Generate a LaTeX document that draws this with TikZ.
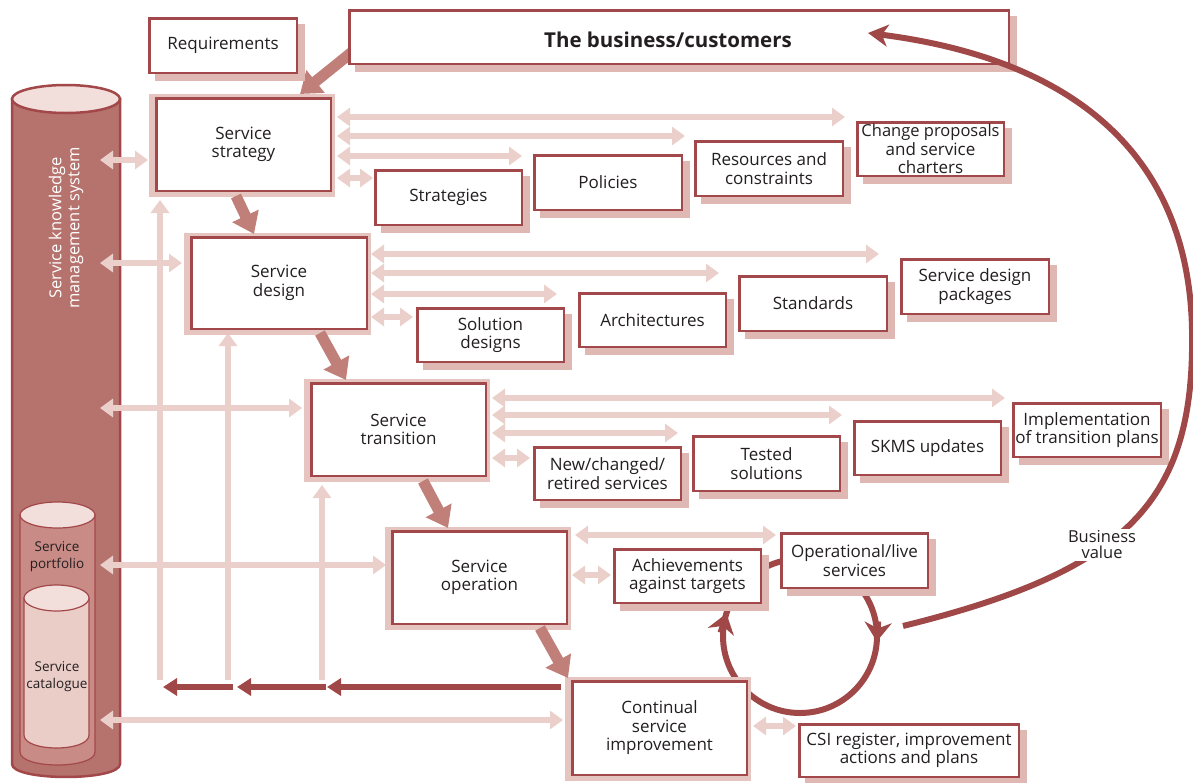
\documentclass[tikz,border=0pt]{standalone}
\usepackage{fontspec}
\setmainfont{Open Sans}
\usetikzlibrary{arrows.meta,calc}
\definecolor{dred}{HTML}{A04848}
\definecolor{bord}{HTML}{A3484A}
\definecolor{lpink}{HTML}{EACFCA}
\definecolor{shad}{HTML}{E0B8B3}
\definecolor{halo}{HTML}{E6C4BF}
\definecolor{bigarr}{HTML}{C07F79}
\definecolor{cylA}{HTML}{B6736E}
\definecolor{cylB}{HTML}{C98B86}
\definecolor{cylC}{HTML}{EBCDC8}
\definecolor{cyltop}{HTML}{F2DEDA}
\definecolor{txt}{HTML}{231F20}
\pgfdeclarelayer{back}
\pgfdeclarelayer{bg}
\pgfdeclarelayer{front}
\pgfsetlayers{back,bg,main,front}
\tikzset{
 every node/.style={font=\fontsize{17}{18.5}\selectfont, text=txt},
 lbox/.style={draw=bord, line width=2.5pt, fill=white, align=center, inner sep=0pt},
 obox/.style={draw=bord, line width=2.5pt, fill=white, align=center, inner sep=0pt},
 la/.style={draw=lpink, line width=6.5pt, {Triangle[length=13pt,width=18pt]}-{Triangle[length=13pt,width=18pt]}},
 lo/.style={draw=lpink, line width=6.5pt, -{Triangle[length=13pt,width=18pt]}},
 da/.style={draw=dred, line width=6pt, -{Triangle[length=14pt,width=17pt]}},
 ba/.style={draw=bigarr, line width=11pt, -{Triangle[length=20pt,width=28pt]}},
 ca/.style={draw=dred, line width=6pt, -{Stealth[length=19pt,width=27pt,inset=6pt]}},
 smalltxt/.style={font=\fontsize{13.5}{17}\selectfont, align=center},
}
\newcommand\LCbox[6]{%
  \fill[halo] ({#2-6},{#3-3}) rectangle ({#4+3},{#5+5});
  \node[lbox, minimum width={#4-#2-2.5}, minimum height={#5-#3-2.5}] (#1) at ({(#2+#4)/2},{(#3+#5)/2}) {#6};}
\newcommand\OBox[6]{%
  \fill[shad] ({#2+7},{#3+7}) rectangle ({#4+7},{#5+7});
  \node[obox, minimum width={#4-#2-2.5}, minimum height={#5-#3-2.5}] (#1) at ({(#2+#4)/2},{(#3+#5)/2}) {#6};}
\begin{document}
\begin{tikzpicture}[x=1pt,y=-1pt]
\useasboundingbox (0,0) rectangle (1193,782);

% ---------- boxes (main layer) ----------
\LCbox{strat}{155}{97}{332}{192}{Service\\strategy}
\LCbox{design}{190}{236}{368}{330}{Service\\design}
\LCbox{trans}{310}{382}{487}{477}{Service\\transition}
\LCbox{oper}{391}{530}{568}{625}{Service\\operation}
\LCbox{csi}{571}{680}{748}{776}{Continual\\service\\improvement}

\OBox{req}{148}{17}{298}{74}{Requirements}
\OBox{bus}{348}{9}{1010}{65}{}
\node[font=\bfseries\fontsize{20.5}{24}\selectfont] (bustxt) at (668,40) {The business/customers};
\OBox{strats}{374}{169}{523}{226}{Strategies}
\OBox{pol}{533}{154}{683}{211}{Policies}
\OBox{res}{694}{140}{844}{197}{Resources and\\constraints}
\OBox{chg}{856}{121}{1005}{177}{\fontsize{16.5}{17}\selectfont Change proposals\\and service\\charters}
\OBox{sol}{416}{307}{565}{363}{Solution\\designs}
\OBox{arch}{578}{292}{727}{348}{Architectures}
\OBox{std}{738}{275}{888}{332}{Standards}
\OBox{sdp}{900}{258}{1050}{315}{Service design\\packages}
\OBox{new}{533}{446}{682}{501}{New/changed/\\retired services}
\OBox{tst}{692}{435}{841}{492}{Tested\\solutions}
\OBox{skms}{853}{420}{1002}{476}{SKMS updates}
\OBox{impl}{1012}{402}{1162}{458}{Implementation\\of transition plans}
\OBox{ach}{613}{548}{762}{604}{Achievements\\against targets}
\OBox{opl}{780}{532}{929}{589}{Operational/live\\services}
\OBox{reg}{798}{723}{1020}{778}{CSI register, improvement\\actions and plans}

% ---------- SKMS cylinder (back layer) ----------
\begin{pgfonlayer}{back}
\filldraw[fill=cylA, draw=bord, line width=2.5pt] (12,99) -- (12,764) .. controls (12,781.3) and (120,781.3) .. (120,764) -- (120,99) -- cycle;
\filldraw[fill=cyltop, draw=bord, line width=2.5pt] (66,99) ellipse [x radius=54, y radius=14];
\filldraw[fill=cylB, draw=bord, line width=1.2pt] (20,515) -- (20,752) .. controls (20,769.3) and (95,769.3) .. (95,752) -- (95,515) -- cycle;
\filldraw[fill=cyltop, draw=bord, line width=1.2pt] (57.5,515) ellipse [x radius=37.5, y radius=13];
\filldraw[fill=cylC, draw=bord, line width=1.2pt] (24,598) -- (24,735) .. controls (24,752.3) and (89,752.3) .. (89,735) -- (89,598) -- cycle;
\filldraw[fill=cyltop, draw=bord, line width=1.2pt] (56.5,598) ellipse [x radius=32.5, y radius=13];
\node[rotate=90, text=white, align=center, font=\fontsize{16.5}{18}\selectfont] (skmslbl) at (66,228) {Service knowledge\\management system};
\node[smalltxt] (portlbl) at (57,557) {Service\\portfolio};
\node[smalltxt] (catlbl) at (57,677) {Service\\catalogue};
\coordinate (sk) at (100,0);
\end{pgfonlayer}

% ---------- light connectors (bg layer) ----------
\begin{pgfonlayer}{bg}
\coordinate (v1) at (160,680);
\coordinate (v2) at (228,680);
\coordinate (v3) at (322,680);
\draw[lo] (v1) -- ($(strat.south -| v1)+(0,8)$);
\draw[lo] (v2) -- ($(design.south -| v2)+(0,3)$);
\draw[lo] (v3) -- ($(trans.south -| v3)+(0,8)$);
% SKMS links
\draw[la] (sk |- 0,160) -- ($(strat.west |- 0,160)+(-7,0)$);
\draw[la] (sk |- 0,263) -- ($(design.west |- 0,263)+(-8,0)$);
\draw[la] (sk |- 0,408) -- ($(trans.west |- 0,408)+(-8,0)$);
\draw[la] (sk |- 0,565) -- ($(oper.west |- 0,565)+(-5,0)$);
\draw[la] (sk |- 0,720) -- ($(csi.west |- 0,720)+(-8,0)$);
% strategy outputs
\draw[la] ($(strat.east |- 0,117)+(5,0)$) -- ($(chg.west |- 0,117)+(-11,0)$);
\draw[la] ($(strat.east |- 0,136)+(5,0)$) -- ($(res.west |- 0,136)+(-9,0)$);
\draw[la] ($(strat.east |- 0,156)+(5,0)$) -- ($(pol.west |- 0,156)+(-11,0)$);
\draw[la] ($(strat.east |- 0,178)+(5,0)$) -- ($(strats.west |- 0,178)+(-1,0)$);
% design outputs
\draw[la] ($(design.east |- 0,254)+(3,0)$) -- ($(sdp.west |- 0,254)+(-21,0)$);
\draw[la] ($(design.east |- 0,273)+(3,0)$) -- ($(std.west |- 0,273)+(-19,0)$);
\draw[la] ($(design.east |- 0,294)+(3,0)$) -- ($(arch.west |- 0,294)+(-21,0)$);
\draw[la] ($(design.east |- 0,317)+(3,0)$) -- ($(sol.west |- 0,317)+(-3,0)$);
% transition outputs
\draw[la] ($(trans.east |- 0,398)+(5,0)$) -- ($(impl.west |- 0,398)+(-7,0)$);
\draw[la] ($(trans.east |- 0,415)+(5,0)$) -- ($(skms.west |- 0,415)+(-11,0)$);
\draw[la] ($(trans.east |- 0,433)+(5,0)$) -- ($(tst.west |- 0,433)+(-14,0)$);
\draw[la] ($(trans.east |- 0,458)+(5,0)$) -- ($(new.west |- 0,458)+(-3,0)$);
% operation outputs
\draw[la] ($(oper.east |- 0,535)+(7,0)$) -- ($(opl.west |- 0,535)+(-4,0)$);
\draw[la] ($(oper.east |- 0,575)+(4,0)$) -- ($(ach.west |- 0,575)+(-2,0)$);
% csi output
\draw[la] ($(csi.east |- 0,726)+(5,0)$) -- ($(reg.west |- 0,726)+(-2,0)$);
% improvement circle
\coordinate (cc) at (800,636);
\draw[dred, line width=6pt] (cc) circle [radius=77];
% business -> strategy
\draw[ba] ($(bus.west)+(14,7)$) -- ($(strat.north)+(56.5,-3)$);
\end{pgfonlayer}

% ---------- front layer ----------
\begin{pgfonlayer}{front}
\draw[ba] ($(strat.south)+(-7.5,4)$) -- ($(design.north)+(-25,-2)$);
\draw[ba] ($(design.south)+(41,3)$) -- ($(trans.north)+(-52.5,-2)$);
\draw[ba] ($(trans.south)+(24.5,4)$) -- ($(oper.north)+(-31.5,-2)$);
\draw[ba] ($(oper.south)+(60.5,3)$) -- ($(csi.north)+(-91.5,-2)$);
% dark feedback arrows
\draw[da] ($(csi.west |- 0,687)+(-10,0)$) -- ($(v3 |- 0,687)+(5,0)$);
\draw[da] ($(v3 |- 0,687)+(4,0)$) -- ($(v2 |- 0,687)+(9,0)$);
\draw[da] ($(v2 |- 0,687)+(5,0)$) -- ($(v1 |- 0,687)+(3,0)$);
% circle arrowheads
\draw[ca] ($(cc)+(-79.4,-3.4)$) -- ($(cc)+(-73.6,-22.5)$);
\draw[ca] ($(cc)+(78.2,-14.6)$) -- ($(cc)+(76.8,5.4)$);
% business value curve
\coordinate (bvs) at (903,626);
\coordinate (bvt) at (868,33);
\draw[dred, line width=6pt, -{Stealth[length=20pt,width=22pt,inset=6pt]}] (bvs) .. controls (1130,570) and (1195,500) .. (1192,330) .. controls (1189,160) and (1080,60) .. (bvt);
\node[fill=white, inner sep=1.5pt, align=center, font=\fontsize{16.5}{16}\selectfont] (bv) at (1102,545) {Business\\value};
\end{pgfonlayer}
\end{tikzpicture}
\end{document}
